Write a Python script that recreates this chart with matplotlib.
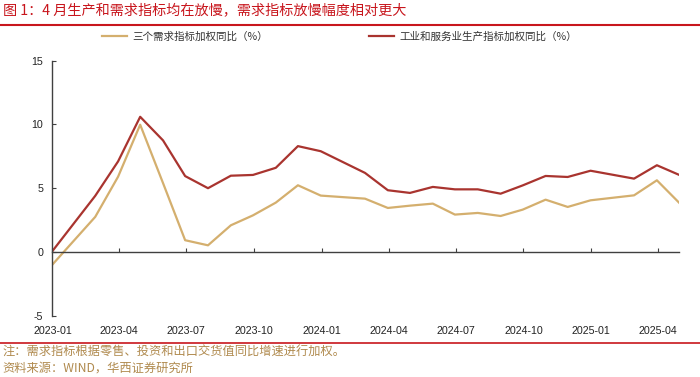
import numpy as np
import pandas as pd
import matplotlib
matplotlib.use('Agg')
import matplotlib.pyplot as plt
import matplotlib.dates as mdates
from matplotlib.lines import Line2D

plt.rcParams['font.family'] = ['Noto Sans CJK SC', 'DejaVu Sans']
plt.rcParams['axes.unicode_minus'] = False

# 数据（月度，1月数据与2月合并）
months = ['2022-12',
          '2023-02', '2023-03', '2023-04', '2023-05', '2023-06', '2023-07',
          '2023-08', '2023-09', '2023-10', '2023-11', '2023-12',
          '2024-02', '2024-03', '2024-04', '2024-05', '2024-06', '2024-07',
          '2024-08', '2024-09', '2024-10', '2024-11', '2024-12',
          '2025-02', '2025-03', '2025-04']
demand = [-1.05,
          2.75, 5.9, 9.98, 5.4, 0.92, 0.52,
          2.09, 2.87, 3.87, 5.23, 4.42,
          4.18, 3.45, 3.63, 3.79, 2.93, 3.06,
          2.82, 3.32, 4.1, 3.53, 4.05,
          4.44, 5.62, 3.87]
production = [0.0,
              4.4, 7.1, 10.6, 8.75, 5.95, 5.0,
              5.98, 6.04, 6.6, 8.3, 7.9,
              6.2, 4.84, 4.63, 5.1, 4.91, 4.91,
              4.57, 5.22, 5.96, 5.88, 6.37,
              5.75, 6.8, 6.05]
demand_label = '三个需求指标加权同比（%）'
production_label = '工业和服务业生产指标加权同比（%）'
title = '图 1：4 月生产和需求指标均在放慢，需求指标放慢幅度相对更大'
note = '注：需求指标根据零售、投资和出口交货值同比增速进行加权。'
source = '资料来源：WIND，华西证券研究所'

dates = pd.to_datetime(months) + pd.offsets.MonthEnd(0)

red = '#A9342F'
gold = '#D4AF6E'
title_red = '#C8161D'
axis_c = '#404040'
note_c = '#B08A4E'

fig = plt.figure(figsize=(7, 3.77), dpi=100)
ax = fig.add_axes([0.0739, 0.1626, 0.8961, 0.6764])

ax.plot(dates, demand, color=gold, lw=1.6, label=demand_label)
ax.plot(dates, production, color=red, lw=1.6, label=production_label)

ax.set_xlim(pd.Timestamp('2022-12-31'), pd.Timestamp('2025-04-30'))
ax.set_ylim(-5, 15)
ax.set_yticks([-5, 0, 5, 10, 15])

ax.xaxis.set_major_locator(mdates.MonthLocator(bymonth=[1, 4, 7, 10]))
ax.xaxis.set_major_formatter(mdates.DateFormatter('%Y-%m'))

for s in ['top', 'right']:
    ax.spines[s].set_visible(False)
ax.spines['bottom'].set_position(('data', 0))
ax.spines['bottom'].set_color(axis_c)
ax.spines['left'].set_color(axis_c)
ax.spines['bottom'].set_linewidth(1.0)
ax.spines['left'].set_linewidth(1.0)

ax.tick_params(axis='x', direction='in', length=3, width=0.8, color=axis_c,
               pad=53, labelsize=7.7)
ax.tick_params(axis='y', direction='in', length=3, width=0.8, color=axis_c,
               pad=6, labelsize=7.7)
for lab in ax.get_xticklabels() + ax.get_yticklabels():
    lab.set_fontfamily('Liberation Sans')
    lab.set_color('#222222')

# 图例
fig.legend(loc='center', bbox_to_anchor=(0.485, 0.902), ncol=2, frameon=False,
           fontsize=7.6, handlelength=2.4, handletextpad=0.5, columnspacing=9.5,
           labelcolor='#333333')

# 标题与分隔线
fig.text(0.004, 1 - 11 / 377, title, color=title_red, fontsize=10.2,
         va='center', ha='left')
fig.add_artist(Line2D([0, 1], [1 - 25 / 377] * 2, transform=fig.transFigure,
                      color=title_red, lw=1.5))
fig.add_artist(Line2D([0, 1], [1 - 343 / 377] * 2, transform=fig.transFigure,
                      color=title_red, lw=1.2))

fig.text(0.004, 1 - 352 / 377, note, color=note_c, fontsize=8.8, va='center')
fig.text(0.004, 1 - 368 / 377, source, color=note_c, fontsize=8.8, va='center')

fig.savefig('out.png', dpi=100)
